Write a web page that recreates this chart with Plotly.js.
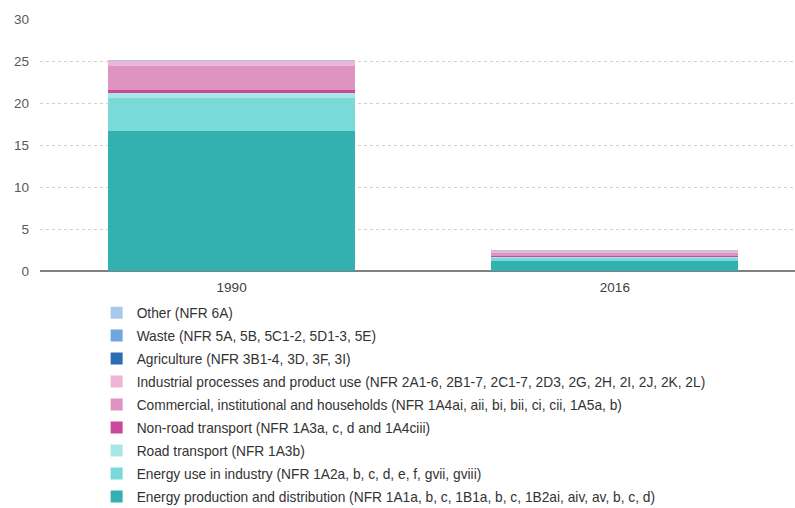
<!DOCTYPE html>
<html><head><meta charset="utf-8">
<script src="https://cdn.plot.ly/plotly-3.0.1.min.js"></script>
<style>html,body{margin:0;overflow:hidden;}#chart{width:795px;height:520px;}</style>
</head><body><div id="chart"></div>
<script>
var years = ['1990', '2016'];
var seriesNames = [
  'Energy production and distribution (NFR 1A1a, b, c, 1B1a, b, c, 1B2ai, aiv, av, b, c, d)',
  'Energy use in industry (NFR 1A2a, b, c, d, e, f, gvii, gviii)',
  'Road transport (NFR 1A3b)',
  'Non-road transport (NFR 1A3a, c, d and 1A4ciii)',
  'Commercial, institutional and households (NFR 1A4ai, aii, bi, bii, ci, cii, 1A5a, b)',
  'Industrial processes and product use (NFR 2A1-6, 2B1-7, 2C1-7, 2D3, 2G, 2H, 2I, 2J, 2K, 2L)',
  'Agriculture (NFR 3B1-4, 3D, 3F, 3I)',
  'Waste (NFR 5A, 5B, 5C1-2, 5D1-3, 5E)',
  'Other (NFR 6A)'
];
var energyProduction = [16.7, 1.15];
var energyIndustry   = [3.9, 0.43];
var roadTransport    = [0.6, 0.1];
var nonRoadTransport = [0.35, 0.06];
var commercial       = [2.8, 0.45];
var industrialProc   = [0.6, 0.15];
var agriculture      = [0.02, 0.01];
var waste            = [0.05, 0.02];
var other            = [0.12, 0.08];
var colors = ['#33b0b0', '#7adada', '#a9e7e7', '#c9489b', '#de93c1', '#efb5d5', '#2b6cb3', '#6ea6dd', '#a6c9ec'];

var values = [energyProduction, energyIndustry, roadTransport, nonRoadTransport, commercial, industrialProc, agriculture, waste, other];
var traces = values.map(function(v, i){
  return {type:'bar', x: years, y: v, name: seriesNames[i], legendgroup: 'g' + i,
          legendrank: 100 - i, marker:{color: colors[i], line:{width:0}}};
});

var layout = {
  width: 795, height: 520,
  margin: {l: 40, r: 0, t: 19, b: 249},
  barmode: 'stack',
  bargap: 0.355,
  paper_bgcolor: '#ffffff', plot_bgcolor: '#ffffff',
  font: {family: 'Liberation Sans, Arial, sans-serif', size: 13.75, color: '#404040'},
  xaxis: {type: 'category', range: [-0.5, 1.47], showgrid: false, ticks: '', showline: false,
          ticklabelstandoff: 6, tickfont: {size: 13.5, color: '#404040'}},
  yaxis: {range: [0, 30], dtick: 5, showgrid: true, gridcolor: '#d0d0d0', griddash: 'dot', gridwidth: 1,
          zeroline: true, zerolinecolor: '#7f7f7f', zerolinewidth: 1.5, ticks: '', ticklabelstandoff: 10,
          tickfont: {size: 13.5, color: '#595959'}},
  showlegend: true,
  legend: {orientation: 'v', x: 0.075, xanchor: 'left', y: -0.104, yanchor: 'top', traceorder: 'grouped',
           font: {size: 13.75, color: '#333333'}, tracegroupgap: 2.1, itemwidth: 30, bgcolor: 'rgba(0,0,0,0)'}
};
Plotly.newPlot('chart', traces, layout, {displayModeBar: false, staticPlot: true});
</script></body></html>
